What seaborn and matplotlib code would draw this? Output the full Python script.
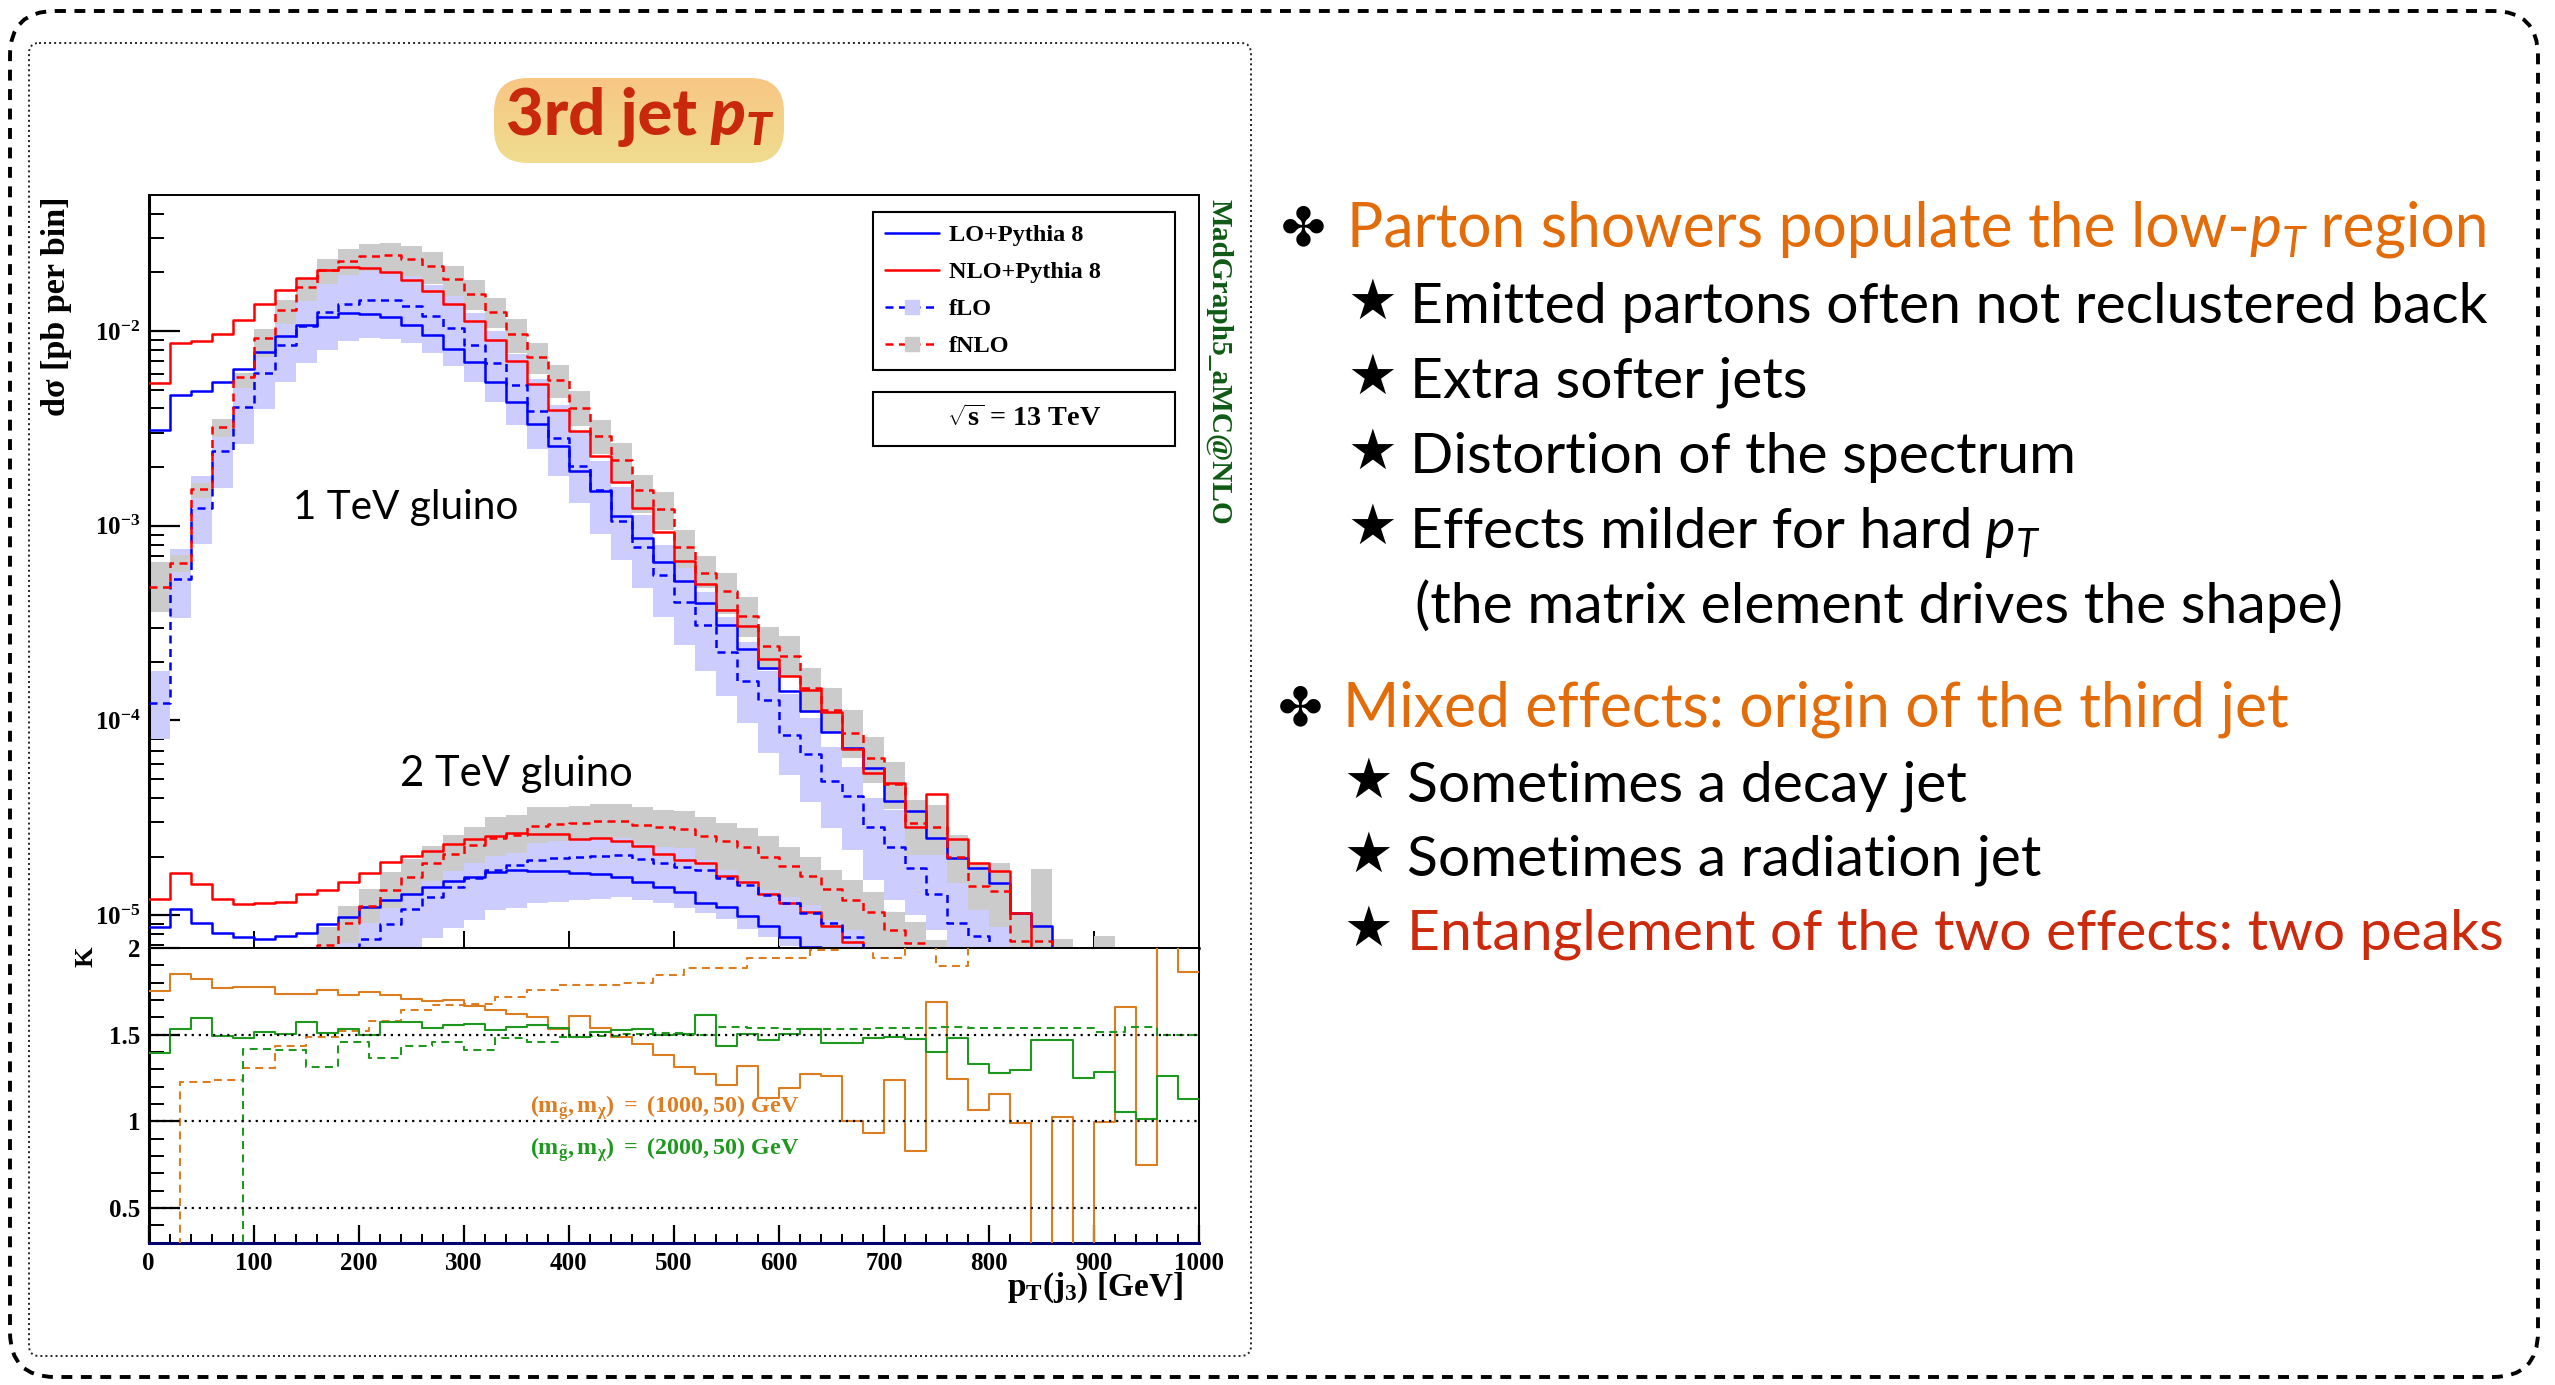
import numpy as np
import matplotlib
matplotlib.use("Agg")
import matplotlib.pyplot as plt
import matplotlib.ticker as mticker
from matplotlib.patches import FancyBboxPatch, Rectangle
from matplotlib.lines import Line2D
from matplotlib.transforms import IdentityTransform
import seaborn as sns

# ------------------------------------------------------------------ data
# third-jet pT spectra, pb per 20 GeV bin (0-1000 GeV)
PT_EDGES = np.arange(0, 1001, 20)
# fixed-order K factors use 30 GeV bins
PT_EDGES_FO = np.arange(0, 1021, 30)

# 1 TeV gluino
LO_1TEV = [3.10e-3, 4.69e-3, 4.90e-3, 5.50e-3, 6.40e-3, 7.80e-3, 9.42e-3, 1.074e-2, 1.18e-2, 1.24e-2,
           1.22e-2, 1.175e-2, 1.07e-2, 9.50e-3, 8.10e-3, 6.95e-3, 5.50e-3, 4.34e-3, 3.32e-3, 2.56e-3,
           1.92e-3, 1.51e-3, 1.12e-3, 8.60e-4, 6.50e-4, 5.20e-4, 4.00e-4, 3.08e-4, 2.33e-4, 1.85e-4,
           1.42e-4, 1.12e-4, 8.70e-5, 7.20e-5, 5.70e-5, 3.85e-5, 3.43e-5, 2.49e-5, 1.97e-5, 1.74e-5,
           1.47e-5, 1.03e-5, 8.80e-6, 6.0e-6, 5.0e-6, 4.2e-6, 3.6e-6, 3.0e-6, 2.5e-6, 2.1e-6]
NLO_1TEV = [5.43e-3, 8.67e-3, 8.89e-3, 9.68e-3, 1.135e-2, 1.38e-2, 1.63e-2, 1.87e-2, 2.06e-2, 2.14e-2,
            2.11e-2, 2.01e-2, 1.83e-2, 1.60e-2, 1.37e-2, 1.12e-2, 9.00e-3, 7.03e-3, 5.35e-3, 3.93e-3,
            3.08e-3, 2.28e-3, 1.67e-3, 1.24e-3, 9.30e-4, 6.60e-4, 5.00e-4, 3.69e-4, 3.06e-4, 2.07e-4,
            1.69e-4, 1.43e-4, 1.10e-4, 7.10e-5, 5.35e-5, 4.75e-5, 2.82e-5, 4.19e-5, 2.47e-5, 1.86e-5,
            1.69e-5, 1.03e-5, 0.0, 6.2e-6, 0.0, 4.2e-6, 6.0e-6, 2.2e-6, 6.5e-6, 3.9e-6]
FLO_1TEV = [1.23e-4, 5.31e-4, 1.24e-3, 2.42e-3, 4.08e-3, 6.10e-3, 8.45e-3, 1.057e-2, 1.25e-2, 1.38e-2,
            1.445e-2, 1.445e-2, 1.34e-2, 1.20e-2, 1.035e-2, 8.50e-3, 6.85e-3, 5.27e-3, 3.89e-3, 2.83e-3,
            2.03e-3, 1.52e-3, 1.06e-3, 7.74e-4, 5.58e-4, 4.07e-4, 3.09e-4, 2.24e-4, 1.59e-4, 1.28e-4,
            8.40e-5, 6.70e-5, 4.90e-5, 4.10e-5, 2.84e-5, 2.24e-5, 1.74e-5, 1.29e-5, 9.10e-6, 7.80e-6,
            6.30e-6, 0, 0, 0, 0, 0, 0, 0, 0, 0]
# scale-variation band edges, in decades above / below the central value
FLO_1TEV_UP = [0.163, 0.154, 0.162, 0.164, 0.159, 0.174, 0.154, 0.150, 0.145, 0.148,
               0.150, 0.150, 0.162, 0.159, 0.166, 0.162, 0.162, 0.159, 0.164, 0.167,
               0.172, 0.152, 0.174, 0.165, 0.155, 0.171, 0.171, 0.180, 0.202, 0.146,
               0.214, 0.185, 0.175, 0.147, 0.149, 0.188, 0.265, 0.240, 0.290, 0.240,
               0.300, 0, 0, 0, 0, 0, 0, 0, 0, 0]
FLO_1TEV_DN = [0.187, 0.200, 0.188, 0.188, 0.193, 0.188, 0.189, 0.188, 0.193, 0.193,
               0.195, 0.201, 0.191, 0.193, 0.193, 0.193, 0.200, 0.205, 0.198, 0.196,
               0.191, 0.222, 0.200, 0.210, 0.217, 0.223, 0.236, 0.225, 0.217, 0.274,
               0.205, 0.243, 0.245, 0.277, 0.274, 0.274, 0.240, 0.188, 0.300, 0.300,
               0.300, 0, 0, 0, 0, 0, 0, 0, 0, 0]
FNLO_1TEV = [4.82e-4, 6.46e-4, 1.55e-3, 3.23e-3, 5.82e-3, 9.20e-3, 1.276e-2, 1.68e-2, 2.06e-2, 2.30e-2,
             2.43e-2, 2.45e-2, 2.355e-2, 2.16e-2, 1.85e-2, 1.54e-2, 1.25e-2, 9.70e-3, 7.36e-3, 5.57e-3,
             4.04e-3, 2.89e-3, 2.18e-3, 1.52e-3, 1.22e-3, 7.80e-4, 5.75e-4, 4.63e-4, 3.44e-4, 2.41e-4,
             2.15e-4, 1.46e-4, 1.13e-4, 8.65e-5, 6.38e-5, 4.71e-5, 2.96e-5, 2.82e-5, 2.00e-5, 1.41e-5,
             1.33e-5, 7.40e-6, 7.40e-6, 4.00e-6, 0, 4.00e-6, 0, 0, 0, 0]
FNLO_1TEV_UP = [0.132, 0.040, 0.031, 0.039, 0.020, 0.048, 0.051, 0.048, 0.056, 0.060,
                0.061, 0.061, 0.063, 0.070, 0.068, 0.072, 0.075, 0.077, 0.072, 0.078,
                0.085, 0.082, 0.085, 0.080, 0.089, 0.085, 0.085, 0.094, 0.096, 0.099,
                0.103, 0.103, 0.115, 0.116, 0.111, 0.111, 0.120, 0.115, 0.111, 0.120,
                0.146, 0.140, 0.368, 0.273, 0, 0.290, 0, 0, 0, 0]
FNLO_1TEV_DN = [0.125, 0.050, 0.049, 0.055, 0.056, 0.097, 0.068, 0.072, 0.072, 0.073,
                0.075, 0.082, 0.087, 0.092, 0.087, 0.082, 0.084, 0.102, 0.090, 0.092,
                0.094, 0.094, 0.111, 0.116, 0.108, 0.110, 0.080, 0.120, 0.106, 0.123,
                0.108, 0.128, 0.116, 0.132, 0.128, 0.130, 0.163, 0.142, 0.137, 0.123,
                0.183, 0.300, 0.300, 0.300, 0, 0.300, 0, 0, 0, 0]

# 2 TeV gluino
LO_2TEV = [8.65e-6, 1.07e-5, 9.08e-6, 8.05e-6, 7.74e-6, 7.57e-6, 7.82e-6, 8.13e-6, 8.97e-6, 9.82e-6,
           1.10e-5, 1.20e-5, 1.29e-5, 1.40e-5, 1.50e-5, 1.57e-5, 1.67e-5, 1.71e-5, 1.69e-5, 1.69e-5,
           1.64e-5, 1.62e-5, 1.57e-5, 1.48e-5, 1.39e-5, 1.31e-5, 1.16e-5, 1.10e-5, 9.90e-6, 8.80e-6,
           7.70e-6, 6.90e-6, 6.00e-6, 5.00e-6, 4.30e-6, 3.70e-6, 3.20e-6, 2.80e-6, 2.40e-6, 2.00e-6,
           1.70e-6, 1.45e-6, 1.25e-6, 1.05e-6, 9.00e-7, 7.60e-7, 6.40e-7, 5.40e-7, 4.60e-7, 3.90e-7]
NLO_2TEV = [1.205e-5, 1.64e-5, 1.44e-5, 1.205e-5, 1.14e-5, 1.15e-5, 1.175e-5, 1.28e-5, 1.35e-5, 1.48e-5,
            1.64e-5, 1.875e-5, 2.02e-5, 2.14e-5, 2.32e-5, 2.45e-5, 2.55e-5, 2.64e-5, 2.61e-5, 2.61e-5,
            2.45e-5, 2.48e-5, 2.39e-5, 2.26e-5, 2.07e-5, 1.92e-5, 1.86e-5, 1.585e-5, 1.48e-5, 1.29e-5,
            1.16e-5, 1.04e-5, 8.80e-6, 7.30e-6, 6.40e-6, 5.50e-6, 4.70e-6, 3.90e-6, 3.55e-6, 2.70e-6,
            2.20e-6, 1.90e-6, 1.80e-6, 1.55e-6, 1.10e-6, 9.80e-7, 6.80e-7, 5.50e-7, 5.80e-7, 4.40e-7]
FLO_2TEV = [0, 0, 0, 0, 0, 1.5e-6, 2.5e-6, 3.6e-6, 4.8e-6, 6.2e-6,
            7.57e-6, 8.97e-6, 1.07e-5, 1.245e-5, 1.39e-5, 1.545e-5, 1.71e-5, 1.81e-5, 1.92e-5, 1.96e-5,
            1.98e-5, 2.02e-5, 2.04e-5, 1.94e-5, 1.86e-5, 1.775e-5, 1.71e-5, 1.545e-5, 1.43e-5, 1.27e-5,
            1.15e-5, 1.03e-5, 9.10e-6, 7.70e-6, 6.40e-6, 5.30e-6, 4.40e-6, 3.60e-6, 3.00e-6, 2.50e-6,
            2.10e-6, 1.70e-6, 1.40e-6, 1.20e-6, 1.00e-6, 8.30e-7, 6.90e-7, 5.70e-7, 4.70e-7, 3.90e-7]
FLO_2TEV_UP = [0.16, 0.16, 0.16, 0.16, 0.16, 0.16, 0.15, 0.17, 0.19, 0.14,
               0.13, 0.15, 0.16, 0.16, 0.17, 0.16, 0.16, 0.17, 0.16, 0.16,
               0.17, 0.16, 0.16, 0.17, 0.16, 0.16, 0.17, 0.16, 0.17, 0.16,
               0.17, 0.16, 0.17, 0.16, 0.16, 0.16, 0.16, 0.16, 0.16, 0.16,
               0.16, 0.16, 0.16, 0.16, 0.16, 0.16, 0.16, 0.16, 0.16, 0.16]
FLO_2TEV_DN = [0.20, 0.20, 0.20, 0.20, 0.20, 0.20, 0.20, 0.20, 0.20, 0.20,
               0.20, 0.20, 0.20, 0.214, 0.21, 0.214, 0.205, 0.222, 0.22, 0.225,
               0.22, 0.222, 0.218, 0.208, 0.208, 0.215, 0.22, 0.21, 0.225, 0.215,
               0.22, 0.21, 0.22, 0.21, 0.20, 0.20, 0.20, 0.20, 0.20, 0.20,
               0.20, 0.20, 0.20, 0.20, 0.20, 0.20, 0.20, 0.20, 0.20, 0.20]
FNLO_2TEV = [0, 0, 0, 0, 0, 2.5e-6, 3.6e-6, 5.0e-6, 7.0e-6, 9.08e-6,
             1.12e-5, 1.345e-5, 1.57e-5, 1.845e-5, 2.07e-5, 2.29e-5, 2.48e-5, 2.58e-5, 2.88e-5, 2.94e-5,
             2.99e-5, 3.04e-5, 3.05e-5, 2.92e-5, 2.83e-5, 2.77e-5, 2.55e-5, 2.40e-5, 2.23e-5, 2.00e-5,
             1.79e-5, 1.585e-5, 1.355e-5, 1.20e-5, 1.04e-5, 8.40e-6, 7.20e-6, 5.80e-6, 4.90e-6, 4.00e-6,
             3.30e-6, 2.70e-6, 2.20e-6, 1.80e-6, 1.50e-6, 1.20e-6, 1.00e-6, 8.20e-7, 6.70e-7, 5.50e-7]
FNLO_2TEV_UP = [0.09, 0.09, 0.09, 0.09, 0.09, 0.09, 0.09, 0.09, 0.094, 0.091,
                0.086, 0.094, 0.094, 0.089, 0.094, 0.094, 0.111, 0.103, 0.098, 0.086,
                0.086, 0.086, 0.086, 0.088, 0.090, 0.092, 0.099, 0.091, 0.098, 0.103,
                0.099, 0.099, 0.099, 0.103, 0.103, 0.094, 0.108, 0.110, 0.11, 0.11,
                0.11, 0.11, 0.11, 0.11, 0.11, 0.11, 0.11, 0.11, 0.11, 0.11]
FNLO_2TEV_DN = [0.10, 0.10, 0.10, 0.10, 0.10, 0.10, 0.10, 0.10, 0.10, 0.10,
                0.09, 0.09, 0.09, 0.09, 0.09, 0.09, 0.09, 0.09, 0.09, 0.09,
                0.09, 0.09, 0.09, 0.10, 0.10, 0.10, 0.123, 0.149, 0.168, 0.171,
                0.158, 0.149, 0.158, 0.154, 0.19, 0.20, 0.20, 0.12, 0.12, 0.12,
                0.12, 0.12, 0.12, 0.12, 0.12, 0.12, 0.12, 0.12, 0.12, 0.12]

# K factors: NLO+PS / LO+PS (20 GeV bins)
KS_1000 = [1.752, 1.849, 1.820, 1.769, 1.773, 1.773, 1.736, 1.736, 1.756, 1.731,
           1.744, 1.727, 1.703, 1.692, 1.700, 1.665, 1.640, 1.620, 1.603, 1.533,
           1.610, 1.541, 1.484, 1.446, 1.382, 1.316, 1.271, 1.207, 1.320, 1.136,
           1.194, 1.271, 1.262, 1.000, 0.932, 1.236, 0.831, 1.688, 1.242, 1.064,
           1.155, 0.990, 0.0, 1.025, 0.0, 0.994, 1.659, 0.748, 2.600, 1.862]
KS_2000 = [1.397, 1.533, 1.595, 1.494, 1.483, 1.517, 1.504, 1.576, 1.510, 1.533,
           1.498, 1.576, 1.576, 1.537, 1.556, 1.560, 1.527, 1.547, 1.556, 1.537,
           1.484, 1.517, 1.527, 1.533, 1.498, 1.502, 1.614, 1.436, 1.502, 1.471,
           1.502, 1.533, 1.450, 1.450, 1.481, 1.484, 1.475, 1.401, 1.479, 1.333,
           1.277, 1.297, 1.469, 1.469, 1.248, 1.287, 1.056, 1.014, 1.262, 1.130]
# K factors: fNLO / fLO (30 GeV bins)
KF_1000 = [0.0, 1.227, 1.238, 1.310, 1.436, 1.488, 1.523, 1.578, 1.640, 1.669,
           1.678, 1.717, 1.760, 1.789, 1.789, 1.800, 1.843, 1.882, 1.882, 1.944,
           1.944, 1.988, 2.050, 1.940, 2.100, 1.897, 2.300, 2.500, 2.200, 2.600,
           2.400, 2.800, 3.000, 2.500]
KF_2000 = [0.0, 0.0, 0.0, 1.417, 1.413, 1.314, 1.455, 1.368, 1.432, 1.459,
           1.411, 1.479, 1.459, 1.484, 1.490, 1.504, 1.510, 1.498, 1.547, 1.537,
           1.533, 1.533, 1.533, 1.537, 1.539, 1.543, 1.539, 1.537, 1.539, 1.539,
           1.514, 1.547, 1.500, 1.500]

# ------------------------------------------------------------------ style
sns.set_theme(style="white")
SERIF = ["Liberation Serif", "DejaVu Serif"]
SANS = ["Lato", "DejaVu Sans"]
plt.rcParams.update({
    "font.family": SERIF,
    "font.weight": "bold",
    "text.color": "black",
    "axes.labelcolor": "black",
    "xtick.color": "black",
    "ytick.color": "black",
    "mathtext.fontset": "custom",
    "mathtext.rm": "Liberation Serif:bold",
    "mathtext.it": "Liberation Serif:italic:bold",
    "mathtext.bf": "Liberation Serif:bold",
})

C_LO, C_NLO = "#0000ff", "#ff0000"
BAND_LO, BAND_NLO = "#ccccff", "#cbcbcb"
C_K1, C_K2 = "#dd7d22", "#1e981e"
DASH = (0, (3.2, 2.2))
DASH_K = (0, (3.8, 2.6))

W, H = 2555, 1385
fig = plt.figure(figsize=(W / 100, H / 100), dpi=100, facecolor="white")
R = fig.canvas.get_renderer()
PX = fig.dpi / 72.0

# ------------------------------------------------------------------ frames
bg = fig.add_axes([0, 0, 1, 1], zorder=0)
bg.set_xlim(0, W)
bg.set_ylim(H, 0)
bg.axis("off")
bg.add_patch(FancyBboxPatch((10, 11), 2528, 1366, boxstyle="round,pad=0,rounding_size=45",
                            fill=False, ec="black", lw=2.8, ls=(0, (2.8, 2.2))))
bg.add_patch(FancyBboxPatch((29, 43), 1222, 1313, boxstyle="round,pad=0,rounding_size=10",
                            fill=False, ec="#222222", lw=1.4, ls=(0, (1, 1.6))))
pill = FancyBboxPatch((494, 78), 290, 85, boxstyle="round,pad=0,rounding_size=34",
                      fc="none", ec="none")
bg.add_patch(pill)
top_c = np.array([248, 198, 132]) / 255
bot_c = np.array([239, 221, 143]) / 255
t = np.linspace(0, 1, 128)[:, None, None]
grad = np.repeat(top_c * (1 - t) + bot_c * t, 4, axis=1)
im = bg.imshow(grad, extent=(494, 784, 163, 78), aspect="auto", zorder=1, interpolation="bilinear")
im.set_clip_path(pill)
bg.set_xlim(0, W)
bg.set_ylim(H, 0)

# ------------------------------------------------------------------ panels
X0, X1 = 148.6, 1199.0
ax1 = fig.add_axes([X0 / W, 1 - 948 / H, (X1 - X0) / W, (948 - 195) / H], zorder=2)
ax2 = fig.add_axes([X0 / W, 1 - 1242.7 / H, (X1 - X0) / W, (1242.7 - 948) / H], zorder=2)
for a in (ax1, ax2):
    a.set_facecolor("white")


def band(ax, center, up, dn, color, z):
    c = np.asarray(center, float)
    hi = c * 10 ** np.asarray(up, float)
    lo = c / 10 ** np.asarray(dn, float)
    ax.stairs(hi, PT_EDGES, baseline=lo, fill=True, color=color, lw=0, zorder=z)


def step(ax, edges, vals, color, ls, lw):
    y = np.append(np.asarray(vals, float), vals[-1])
    sns.lineplot(x=edges, y=y, ax=ax, color=color, lw=lw, linestyle=ls,
                 drawstyle="steps-post", estimator=None, sort=False, legend=False, zorder=3)


band(ax1, FLO_1TEV, FLO_1TEV_UP, FLO_1TEV_DN, BAND_LO, 1.0)
band(ax1, FLO_2TEV, FLO_2TEV_UP, FLO_2TEV_DN, BAND_LO, 1.0)
band(ax1, FNLO_1TEV, FNLO_1TEV_UP, FNLO_1TEV_DN, BAND_NLO, 1.5)
band(ax1, FNLO_2TEV, FNLO_2TEV_UP, FNLO_2TEV_DN, BAND_NLO, 1.5)
for lo, nlo, flo, fnlo in ((LO_1TEV, NLO_1TEV, FLO_1TEV, FNLO_1TEV),
                           (LO_2TEV, NLO_2TEV, FLO_2TEV, FNLO_2TEV)):
    step(ax1, PT_EDGES, lo, C_LO, "-", 1.8)
    step(ax1, PT_EDGES, nlo, C_NLO, "-", 1.8)
    step(ax1, PT_EDGES, flo, C_LO, DASH, 1.8)
    step(ax1, PT_EDGES, fnlo, C_NLO, DASH, 1.8)

ax1.set_yscale("log")
ax1.set_xlim(0, 1000)
ax1.set_ylim(6.78e-6, 0.04995)
ax1.set_xlabel("")
ax1.set_ylabel("")
ax1.yaxis.set_major_locator(mticker.LogLocator(base=10, numticks=12))
ax1.yaxis.set_minor_locator(mticker.LogLocator(base=10, subs=np.arange(2, 10), numticks=12))
ax1.yaxis.set_major_formatter(mticker.FuncFormatter(
    lambda v, p: r"$\mathbf{10^{%d}}$" % int(round(np.log10(v)))))
ax1.yaxis.set_minor_formatter(mticker.NullFormatter())
ax1.xaxis.set_major_locator(mticker.MultipleLocator(100))
ax1.xaxis.set_minor_locator(mticker.NullLocator())
ax1.tick_params(axis="x", which="major", direction="in", length=12, width=1.4,
                bottom=True, top=False, labelbottom=False)
ax1.tick_params(axis="y", which="major", direction="in", length=22, width=1.6,
                left=True, right=False, labelsize=18, pad=6)
ax1.tick_params(axis="y", which="minor", direction="in", length=11, width=1.4,
                left=True, right=False)

# lower panel: K factors
step(ax2, PT_EDGES, KS_1000, C_K1, "-", 1.5)
step(ax2, PT_EDGES_FO, KF_1000, C_K1, DASH_K, 1.5)
step(ax2, PT_EDGES, KS_2000, C_K2, "-", 1.5)
step(ax2, PT_EDGES_FO, KF_2000, C_K2, DASH_K, 1.5)
for k in (0.5, 1.0, 1.5):
    ax2.axhline(k, color="black", lw=1.6, ls=(0, (1, 2.2)), zorder=4)
ax2.set_xlim(0, 1000)
ax2.set_ylim(0.3, 2.0)
ax2.set_xlabel("")
ax2.set_ylabel("")
ax2.xaxis.set_major_locator(mticker.MultipleLocator(100))
ax2.xaxis.set_minor_locator(mticker.MultipleLocator(20))
ax2.xaxis.set_major_formatter(mticker.FormatStrFormatter("%d"))
ax2.yaxis.set_major_locator(mticker.FixedLocator([0.5, 1.0, 1.5, 2.0]))
ax2.yaxis.set_minor_locator(mticker.MultipleLocator(0.1))
ax2.yaxis.set_major_formatter(mticker.FuncFormatter(lambda v, p: "%g" % v))
ax2.tick_params(axis="x", which="major", direction="in", length=13, width=1.6,
                bottom=True, top=False, labelsize=18, pad=7)
ax2.tick_params(axis="x", which="minor", direction="in", length=6.5, width=1.4,
                bottom=True, top=False)
ax2.tick_params(axis="y", which="major", direction="in", length=22, width=1.6,
                left=True, right=False, labelsize=18, pad=6)
ax2.tick_params(axis="y", which="minor", direction="in", length=11, width=1.4,
                left=True, right=False)

for a in (ax1, ax2):
    for s in a.spines.values():
        s.set_visible(True)
        s.set_color("black")
        s.set_linewidth(1.4)
    a.spines["left"].set_linewidth(2.2)
ax2.spines["bottom"].set_color("#00006e")
ax2.spines["bottom"].set_linewidth(2.2)
ax1.spines["bottom"].set_linewidth(1.8)

# legend and energy box
handles = [Line2D([], [], color=C_LO, lw=1.8),
           Line2D([], [], color=C_NLO, lw=1.8),
           Line2D([], [], color=C_LO, lw=1.8, ls=DASH, marker="s", ms=10, mfc=BAND_LO, mec=BAND_LO),
           Line2D([], [], color=C_NLO, lw=1.8, ls=DASH, marker="s", ms=10, mfc=BAND_NLO, mec=BAND_NLO)]
leg = ax1.legend(handles, ["LO+Pythia 8", "NLO+Pythia 8", "fLO", "fNLO"], loc="upper left",
                 bbox_to_anchor=(0.6896, 0.9774, 0.2875, 0), mode="expand", borderaxespad=0,
                 prop=dict(family=SERIF, weight="bold", size=17.5), handlelength=2.2,
                 handletextpad=0.42, labelspacing=0.62, borderpad=0.5, fancybox=False,
                 framealpha=1, edgecolor="black", numpoints=1)
leg.get_frame().set_linewidth(1.5)
leg.set_zorder(6)
ax1.add_patch(Rectangle((0.6896, 0.6667), 0.2875, 0.0717, transform=ax1.transAxes,
                        fill=False, ec="black", lw=1.5, zorder=6))


def fit(txt, target, vertical=False):
    bb = txt.get_window_extent(R)
    cur = bb.height if vertical else bb.width
    txt.set_fontsize(txt.get_fontsize() * target / cur)


rs = ax1.text(0.8334, 0.7026, r"$\mathbf{\sqrt{s}}$ = 13 TeV", transform=ax1.transAxes,
              ha="center", va="center", fontsize=21, weight="bold", zorder=6)
fit(rs, 155)

g1 = ax1.text(137, 1.08e-3, "1 TeV gluino", family=SANS, weight="normal",
              fontsize=30, va="baseline", ha="left", zorder=5)
fit(g1, 225)
g2 = ax1.text(239, 4.6e-5, "2 TeV gluino", family=SANS, weight="normal",
              fontsize=30, va="baseline", ha="left", zorder=5)
fit(g2, 232)

k1 = ax2.text(363, 1.05, r"$\mathbf{(m_{\tilde{g}}, m_{\chi})\ =\ (1000, 50)\ GeV}$",
              color=C_K1, fontsize=16, ha="left", va="baseline", zorder=5)
fit(k1, 270)
k2 = ax2.text(363, 0.81, r"$\mathbf{(m_{\tilde{g}}, m_{\chi})\ =\ (2000, 50)\ GeV}$",
              color=C_K2, fontsize=16, ha="left", va="baseline", zorder=5)
fit(k2, 270)

# axis titles and generator tag
ID = IdentityTransform()
yl = fig.text(57, H - 197, "dσ [pb per bin]", transform=ID, rotation=90,
              ha="center", va="top", fontsize=19, weight="bold")
fit(yl, 220, vertical=True)
fig.text(86, H - 957, "K", transform=ID, rotation=90, ha="center", va="center",
         fontsize=19, weight="bold")
xl = fig.text(1183, H - 1296, r"$\mathbf{p_{T}(j_{3})\ [GeV]}$", transform=ID,
              ha="right", va="baseline", fontsize=22)
fit(xl, 176)
mg = fig.text(1219, H - 199, "MadGraph5_aMC@NLO", transform=ID, rotation=270,
              ha="center", va="top", fontsize=20, weight="bold", color="#0f5a14")
fit(mg, 326, vertical=True)


# rich text lines (upright text with an italic p_T)
def draw_runs(x, y, parts, size, color, weight="normal"):
    objs, cur = [], x
    for txt, italic, sub in parts:
        fs = size * 0.7 if sub else size
        yy = y - 0.16 * size * PX if sub else y
        o = fig.text(cur, yy, txt, transform=ID, fontsize=fs, family=SANS, weight=weight,
                     style="italic" if italic else "normal", color=color,
                     ha="left", va="baseline")
        cur += o.get_window_extent(R).width
        objs.append(o)
    return objs, cur - x


title_parts = [("3rd jet", False, False), (" p", True, False), ("T", True, True)]
objs, wid = draw_runs(506, H - 135, title_parts, 30, "#c8290c", "black")
for o in objs:
    o.remove()
draw_runs(506, H - 135, title_parts, 30 * 265 / wid, "#c8290c", "black")

probe = fig.text(0, 0, "Emitted partons often not reclustered back", transform=ID,
                 fontsize=40, family=SANS, weight="normal")
SIZE = 40 * 1076 / probe.get_window_extent(R).width
probe.remove()

ORANGE, RED = "#e36c0a", "#cc2a0c"
text_lines = [
    (1347, 247, 1.065, [("Parton showers populate the low-", False, False), ("p", True, False),
                        ("T", True, True), (" region", False, False)], ORANGE),
    (1410, 323, 1.0, [("Emitted partons often not reclustered back", False, False)], "black"),
    (1410, 398, 1.0, [("Extra softer jets", False, False)], "black"),
    (1410, 473, 1.0, [("Distortion of the spectrum", False, False)], "black"),
    (1410, 548, 1.0, [("Effects milder for hard", False, False), (" p", True, False),
                      ("T", True, True)], "black"),
    (1415, 623, 1.0, [("(the matrix element drives the shape)", False, False)], "black"),
    (1343, 727, 1.065, [("Mixed effects: origin of the third jet", False, False)], ORANGE),
    (1407, 802, 1.0, [("Sometimes a decay jet", False, False)], "black"),
    (1407, 876, 1.0, [("Sometimes a radiation jet", False, False)], "black"),
    (1407, 950, 1.0, [("Entanglement of the two effects: two peaks", False, False)], RED),
]
for x, y, scale, parts, col in text_lines:
    draw_runs(x, H - y, parts, SIZE * scale, col)

for x, y in ((1281, 247), (1278, 727)):
    b = fig.text(x, H - y + 2, "\u2724", transform=ID, fontsize=34, family=["DejaVu Sans"],
                 weight="normal", color="black", ha="left", va="baseline")
    fit(b, 45)
for x, y in ((1372, 323), (1372, 398), (1372, 473), (1372, 548),
             (1368, 802), (1368, 876), (1368, 950)):
    fig.text(x, H - y + 19, "\u2605", transform=ID, fontsize=40, family=["DejaVu Sans"],
             weight="normal", color="black", ha="center", va="center")

fig.savefig("out.png", dpi=100, facecolor="white")
